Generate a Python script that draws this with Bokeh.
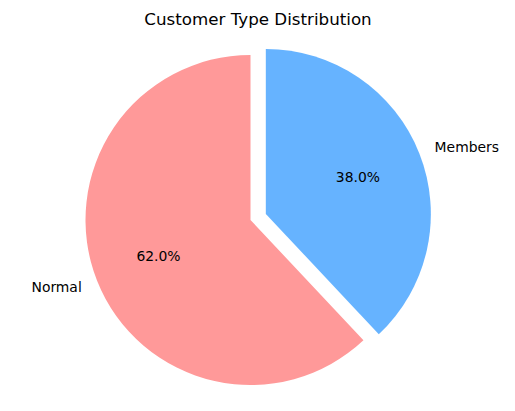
import math
from bokeh.plotting import figure
from bokeh.models import Range1d, Label, ColumnDataSource
from bokeh.embed import file_html
from bokeh.resources import INLINE

# ---- data ----
categories = ["Normal", "Members"]
shares = [62.0, 38.0]
explode = [0.0, 0.1]
colors = ["#ff9999", "#66b3ff"]
title_text = "Customer Type Distribution"

# ---- layout (screen pixels of the 515x411 picture; data y = 411 - screen y) ----
W, H = 515, 411
M = 8
PW, PH = W - 2 * M, H - 2 * M
CX, CY = 250.0, H - 219.5
R = 165.0
START = 90.0
FONT = "DejaVu Sans"

p = figure(width=PW, height=PH, output_backend="svg",
           toolbar_location=None, x_range=Range1d(0, PW),
           y_range=Range1d(H - PH, H), min_border=0)
p.axis.visible = False
p.grid.visible = False
p.outline_line_color = None
p.background_fill_color = "white"
p.border_fill_color = "white"

total = sum(shares)
xs, ys, starts, ends = [], [], [], []
lx, ly, la, px_, py_, pt = [], [], [], [], [], []
a0 = START
for cat, s, ex in zip(categories, shares, explode):
    theta = 360.0 * s / total
    a1 = a0 + theta
    mid = math.radians((a0 + a1) / 2)
    cx = CX + ex * R * math.cos(mid)
    cy = CY + ex * R * math.sin(mid)
    xs.append(cx); ys.append(cy)
    starts.append(math.radians(a0)); ends.append(math.radians(a1))
    lx.append(cx + 1.1 * R * math.cos(mid))
    ly.append(cy + 1.1 * R * math.sin(mid))
    la.append("right" if math.cos(mid) < 0 else "left")
    px_.append(cx + 0.6 * R * math.cos(mid))
    py_.append(cy + 0.6 * R * math.sin(mid))
    pt.append(f"{100.0 * s / total:.1f}%")
    a0 = a1

src = ColumnDataSource(dict(x=xs, y=ys, start=starts, end=ends, color=colors))
p.wedge(x="x", y="y", radius=R, radius_units="screen", start_angle="start",
        end_angle="end", direction="anticlock", fill_color="color",
        line_color=None, source=src)

for i, cat in enumerate(categories):
    p.add_layout(Label(x=lx[i], y=ly[i], text=cat, text_align=la[i],
                       text_baseline="middle", text_font=FONT,
                       text_font_size="13.9px", text_color="black"))
    p.add_layout(Label(x=px_[i], y=py_[i], text=pt[i], text_align="center",
                       text_baseline="middle", text_font=FONT,
                       text_font_size="13.9px", text_color="black"))

p.add_layout(Label(x=257.5, y=H - 18.0, text=title_text, text_align="center",
                   text_baseline="middle", text_font=FONT,
                   text_font_size="16.7px", text_color="black"))

open("out.html", "w").write(file_html(p, INLINE))
